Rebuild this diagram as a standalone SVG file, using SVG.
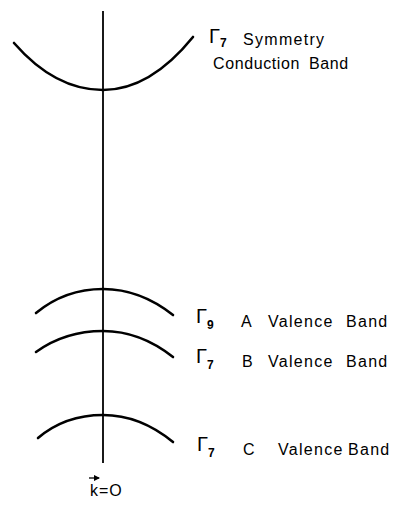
<svg xmlns="http://www.w3.org/2000/svg" width="395" height="519" viewBox="0 0 395 519">
<style>
.band{fill:none;stroke:#000;stroke-width:2.6;stroke-linecap:round}
.axis{fill:none;stroke:#000;stroke-width:1.8}
text{font-family:"Liberation Sans",Arial,sans-serif;font-size:16px;fill:#000}
.sub{font-size:12px;font-weight:bold}
.gam{font-size:20px}
.w{letter-spacing:1.3px}
</style>
<defs>
<marker id="ah" viewBox="0 0 6 6" refX="5" refY="3" markerWidth="5" markerHeight="5" orient="auto"><path d="M0,0 L6,3 L0,6 z" fill="#000"/></marker>
</defs>
<g id="connectors">
<line class="axis" x1="103" y1="11" x2="103" y2="463"/>
</g>
<g id="conduction">
<path class="band" d="M14,43 Q55,90 103,90 Q150,90 193,37"/>
<text x="209" y="45"><tspan class="gam" dy="-2">Γ</tspan><tspan class="sub" dy="4">7</tspan><tspan dy="-2" x="243" class="w">Symmetry</tspan></text>
<text x="213" y="69" letter-spacing="0.6">Conduction <tspan x="309">Band</tspan></text>
</g>
<g id="valenceA">
<path class="band" d="M36,313 Q65,289 103,289 Q140,289 173,315"/>
<text x="196" y="327"><tspan class="gam" dy="-4">Γ</tspan><tspan class="sub" dy="6">9</tspan><tspan dy="-2" x="241">A</tspan><tspan x="268" class="w">Valence</tspan><tspan x="346" class="w">Band</tspan></text>
</g>
<g id="valenceB">
<path class="band" d="M36,352 Q65,331 103,331 Q140,331 173,357"/>
<text x="196" y="367"><tspan class="gam" dy="-4">Γ</tspan><tspan class="sub" dy="6">7</tspan><tspan dy="-2" x="242">B</tspan><tspan x="268" class="w">Valence</tspan><tspan x="346" class="w">Band</tspan></text>
</g>
<g id="valenceC">
<path class="band" d="M38,438 Q65,415 103,415 Q140,415 173,442"/>
<text x="197" y="455"><tspan class="gam" dy="-4">Γ</tspan><tspan class="sub" dy="6">7</tspan><tspan dy="-2" x="243">C</tspan><tspan x="278" class="w">Valence</tspan><tspan x="348" class="w">Band</tspan></text>
</g>
<g id="k0">
<line x1="89" y1="478" x2="99" y2="478" stroke="#000" stroke-width="1.3" marker-end="url(#ah)"/>
<text x="90" y="496" font-size="15" letter-spacing="1">k=O</text>
</g>
</svg>
